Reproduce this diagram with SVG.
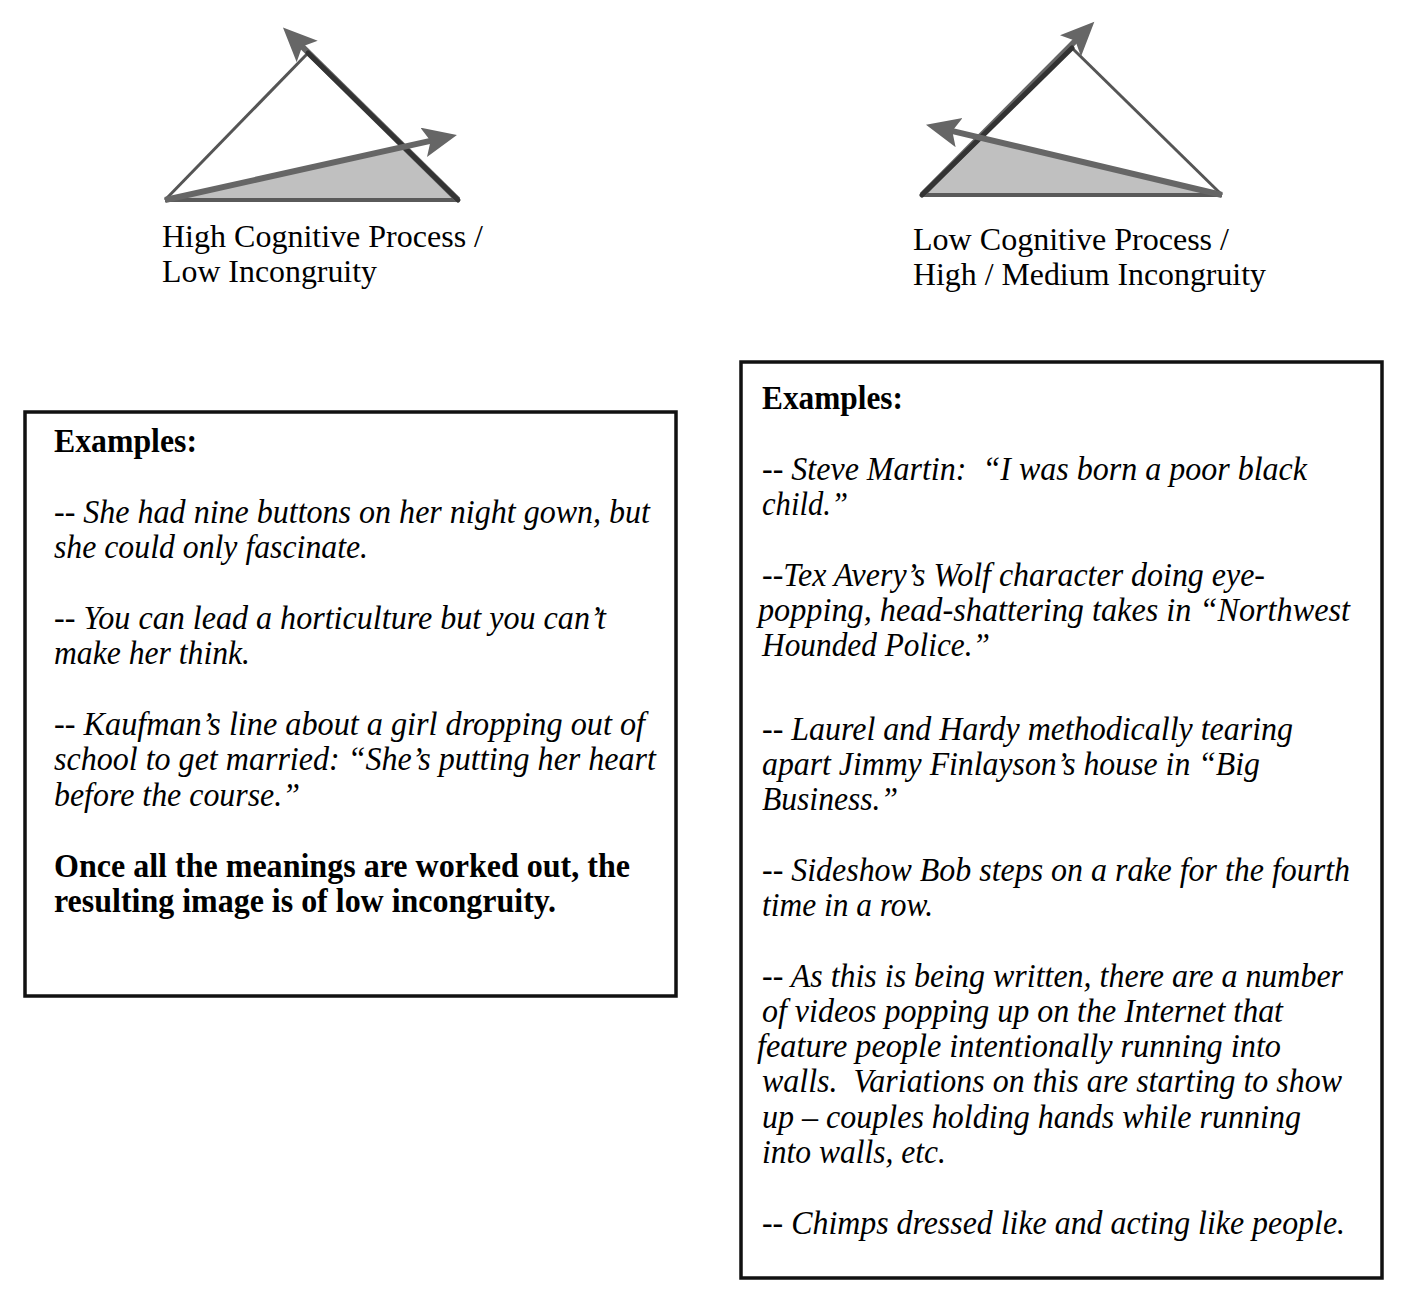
<svg xmlns="http://www.w3.org/2000/svg" width="1403" height="1304" viewBox="0 0 1403 1304">
<style>
text{font-family:"Liberation Serif","Times New Roman",serif;font-size:33px;fill:#000}
.b{font-weight:bold}
.i{font-style:italic}
.lbl{font-size:32px}
.box{fill:#fff;stroke:#111;stroke-width:3.5}
.fill{fill:#c0c0c0;stroke:none}
.base{stroke:#5a5a5a;stroke-width:4;fill:none}
.thin{stroke:#555;stroke-width:3;fill:none}
.arr{stroke:#666;stroke-width:6;fill:none;marker-end:url(#ah)}
.dark{stroke:#333;stroke-width:5;fill:none;stroke-linecap:round}
</style>
<defs>
<marker id="ah" markerUnits="userSpaceOnUse" markerWidth="36" markerHeight="32" refX="23" refY="15" orient="auto">
<path d="M0,0 L34,15 L0,30 L7,15 Z" fill="#666"/>
</marker>
</defs>
<rect width="1403" height="1304" fill="#fff"/>

<g id="triangle-left">
<polygon class="fill" points="165,200 458,200 405,148"/>
<line class="base" x1="165" y1="200" x2="458" y2="200"/>
<line class="thin" x1="165" y1="200" x2="308" y2="53"/>
<line class="arr" x1="458" y1="200" x2="290.8" y2="35.3"/>
<line class="dark" x1="458" y1="200" x2="308" y2="53"/>
<line class="arr" x1="165" y1="200" x2="446.2" y2="137.4"/>
</g>

<g id="triangle-right">
<polygon class="fill" points="922,195 1222,195 980,138"/>
<line class="base" x1="922" y1="195" x2="1222" y2="195"/>
<line class="thin" x1="1072" y1="48" x2="1222" y2="195"/>
<line class="arr" x1="922" y1="195" x2="1086.6" y2="29.5"/>
<line class="dark" x1="922" y1="195" x2="1072" y2="48"/>
<line class="arr" x1="1222" y1="195" x2="936.7" y2="127.3"/>
</g>

<g id="label-left">
<text class="lbl" x="162" y="247" textLength="321" lengthAdjust="spacingAndGlyphs">High Cognitive Process /</text>
<text class="lbl" x="162" y="282" textLength="215" lengthAdjust="spacingAndGlyphs">Low Incongruity</text>
</g>

<g id="label-right">
<text class="lbl" x="913" y="250" textLength="316" lengthAdjust="spacingAndGlyphs">Low Cognitive Process /</text>
<text class="lbl" x="913" y="285" textLength="353" lengthAdjust="spacingAndGlyphs">High / Medium Incongruity</text>
</g>

<g id="box-left">
<rect class="box" x="25" y="412" width="651" height="584"/>
<text class="b" x="54" y="452" textLength="143" lengthAdjust="spacingAndGlyphs">Examples:</text>
<text class="i" x="54" y="523" textLength="596" lengthAdjust="spacingAndGlyphs">-- She had nine buttons on her night gown, but</text>
<text class="i" x="54" y="558" textLength="314" lengthAdjust="spacingAndGlyphs">she could only fascinate.</text>
<text class="i" x="54" y="629" textLength="552" lengthAdjust="spacingAndGlyphs">-- You can lead a horticulture but you can’t</text>
<text class="i" x="54" y="664" textLength="196" lengthAdjust="spacingAndGlyphs">make her think.</text>
<text class="i" x="54" y="735" textLength="591" lengthAdjust="spacingAndGlyphs">-- Kaufman’s line about a girl dropping out of</text>
<text class="i" x="54" y="770" textLength="602" lengthAdjust="spacingAndGlyphs">school to get married:  “She’s putting her heart</text>
<text class="i" x="54" y="806" textLength="246" lengthAdjust="spacingAndGlyphs">before the course.”</text>
<text class="b" x="54" y="877" textLength="576" lengthAdjust="spacingAndGlyphs">Once all the meanings are worked out, the</text>
<text class="b" x="54" y="912" textLength="502" lengthAdjust="spacingAndGlyphs">resulting image is of low incongruity.</text>
</g>

<g id="box-right">
<rect class="box" x="741" y="362" width="641" height="916"/>
<text class="b" x="762" y="409" textLength="141" lengthAdjust="spacingAndGlyphs">Examples:</text>
<text class="i" x="762" y="480" textLength="545" lengthAdjust="spacingAndGlyphs">-- Steve Martin:&#160; “I was born a poor black</text>
<text class="i" x="762" y="515" textLength="86" lengthAdjust="spacingAndGlyphs">child.”</text>
<text class="i" x="762" y="586" textLength="503" lengthAdjust="spacingAndGlyphs">--Tex Avery’s Wolf character doing eye-</text>
<text class="i" x="758" y="621" textLength="592" lengthAdjust="spacingAndGlyphs">popping, head-shattering takes in “Northwest</text>
<text class="i" x="762" y="656" textLength="228" lengthAdjust="spacingAndGlyphs">Hounded Police.”</text>
<text class="i" x="762" y="740" textLength="531" lengthAdjust="spacingAndGlyphs">-- Laurel and Hardy methodically tearing</text>
<text class="i" x="762" y="775" textLength="498" lengthAdjust="spacingAndGlyphs">apart Jimmy Finlayson’s house in “Big</text>
<text class="i" x="762" y="810" textLength="136" lengthAdjust="spacingAndGlyphs">Business.”</text>
<text class="i" x="762" y="881" textLength="588" lengthAdjust="spacingAndGlyphs">-- Sideshow Bob steps on a rake for the fourth</text>
<text class="i" x="762" y="916" textLength="171" lengthAdjust="spacingAndGlyphs">time in a row.</text>
<text class="i" x="762" y="987" textLength="581" lengthAdjust="spacingAndGlyphs">-- As this is being written, there are a number</text>
<text class="i" x="762" y="1022" textLength="521" lengthAdjust="spacingAndGlyphs">of videos popping up on the Internet that</text>
<text class="i" x="757" y="1057" textLength="524" lengthAdjust="spacingAndGlyphs">feature people intentionally running into</text>
<text class="i" x="762" y="1092" textLength="580" lengthAdjust="spacingAndGlyphs">walls.&#160; Variations on this are starting to show</text>
<text class="i" x="762" y="1128" textLength="539" lengthAdjust="spacingAndGlyphs">up – couples holding hands while running</text>
<text class="i" x="762" y="1163" textLength="184" lengthAdjust="spacingAndGlyphs">into walls, etc.</text>
<text class="i" x="762" y="1234" textLength="583" lengthAdjust="spacingAndGlyphs">-- Chimps dressed like and acting like people.</text>
</g>
</svg>
